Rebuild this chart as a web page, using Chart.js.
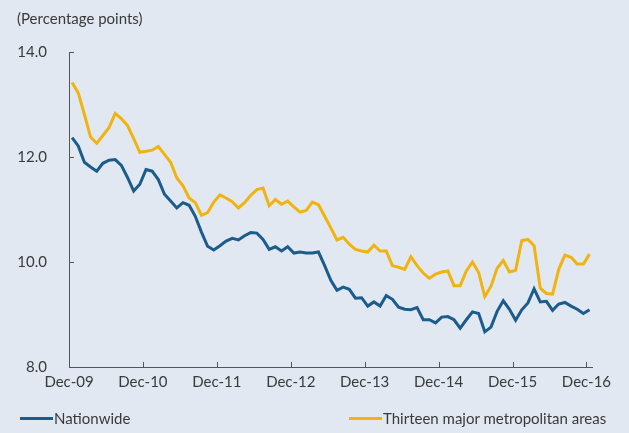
<!DOCTYPE html>
<html>
<head>
<meta charset="utf-8">
<title>Percentage points chart</title>
<script src="https://cdn.jsdelivr.net/npm/chart.js@4.4.1/dist/chart.umd.min.js"></script>
<style>
  html, body { margin: 0; padding: 0; background: #e1e8f1; }
  #wrap { position: relative; width: 629px; height: 433px; font-family: Lato, sans-serif; color: #3a3a3a; }
  canvas { position: absolute; left: 0; top: 0; }
  .txt { position: absolute; font-size: 15px; line-height: 18px; white-space: nowrap; }
  .key { position: absolute; height: 3px; width: 33px; }
</style>
</head>
<body>
<div id="wrap">
  <canvas id="chart" width="629" height="433"></canvas>
  <div class="txt" style="left:17px; top:9px;">(Percentage points)</div>
  <div class="key" style="left:20px; top:417px; background:#1b5c8b;"></div>
  <div class="txt" style="left:54px; top:409px;">Nationwide</div>
  <div class="key" style="left:349px; top:417px; background:#f0b310;"></div>
  <div class="txt" style="left:383px; top:409px;">Thirteen major metropolitan areas</div>
</div>
<script>
// Monthly values, Dec-09 (index 0) to Dec-16 (index 84)
const nationwide = [
  12.37, 12.21, 11.90, 11.81, 11.73, 11.88, 11.94, 11.95, 11.84, 11.61,
  11.35, 11.48, 11.76, 11.73, 11.57, 11.29, 11.16, 11.03, 11.13, 11.08,
  10.87, 10.57, 10.30, 10.23, 10.31, 10.40, 10.45, 10.42, 10.50, 10.56,
  10.55, 10.43, 10.24, 10.29, 10.21, 10.29, 10.17, 10.19, 10.17, 10.17,
  10.19, 9.93, 9.65, 9.46, 9.52, 9.48, 9.31, 9.32, 9.16, 9.24,
  9.16, 9.36, 9.29, 9.14, 9.10, 9.09, 9.13, 8.90, 8.90, 8.84,
  8.95, 8.96, 8.90, 8.74, 8.90, 9.05, 9.02, 8.67, 8.76, 9.06,
  9.26, 9.10, 8.89, 9.09, 9.22, 9.49, 9.24, 9.25, 9.08, 9.20,
  9.23, 9.16, 9.10, 9.02, 9.09
];
const metroAreas = [
  13.42, 13.22, 12.81, 12.38, 12.26, 12.41, 12.56, 12.83, 12.73, 12.60,
  12.35, 12.09, 12.11, 12.13, 12.20, 12.05, 11.90, 11.60, 11.45, 11.22,
  11.13, 10.89, 10.94, 11.14, 11.28, 11.22, 11.15, 11.03, 11.13, 11.27,
  11.38, 11.41, 11.07, 11.19, 11.10, 11.16, 11.05, 10.95, 10.98, 11.14,
  11.09, 10.87, 10.65, 10.42, 10.47, 10.34, 10.24, 10.21, 10.19, 10.32,
  10.21, 10.21, 9.93, 9.90, 9.86, 10.10, 9.93, 9.79, 9.69, 9.77,
  9.81, 9.83, 9.55, 9.55, 9.83, 10.00, 9.80, 9.34, 9.54, 9.88,
  10.03, 9.81, 9.84, 10.41, 10.43, 10.31, 9.50, 9.40, 9.39, 9.86,
  10.13, 10.09, 9.96, 9.96, 10.15
];
const tickLabels = ['Dec-09', 'Dec-10', 'Dec-11', 'Dec-12', 'Dec-13', 'Dec-14', 'Dec-15', 'Dec-16'];
const yTicks = [8, 10, 12, 14];

// year ticks sit half a month before each December point
const xTickPos = tickLabels.map((_, k) => k * 12 - 0.5);

const axisColor = '#555555';
const textColor = '#3a3a3a';

// small tick marks drawn inside the plot, like the original
const innerTicks = {
  id: 'innerTicks',
  afterDatasetsDraw(chart) {
    const { ctx, scales: { x, y } } = chart;
    ctx.save();
    ctx.strokeStyle = axisColor;
    ctx.lineWidth = 1;
    xTickPos.forEach(v => {
      const px = Math.round(x.getPixelForValue(v)) + 0.5;
      ctx.beginPath();
      ctx.moveTo(px, y.bottom);
      ctx.lineTo(px, y.bottom - 5);
      ctx.stroke();
    });
    yTicks.slice(1).forEach(v => {
      const py = Math.round(y.getPixelForValue(v)) + 0.5;
      ctx.beginPath();
      ctx.moveTo(x.left, py);
      ctx.lineTo(x.left + 5, py);
      ctx.stroke();
    });
    ctx.restore();
  }
};

const toPoints = arr => arr.map((v, i) => ({ x: i, y: v }));

new Chart(document.getElementById('chart'), {
  type: 'line',
  data: {
    datasets: [
      {
        label: 'Thirteen major metropolitan areas',
        data: toPoints(metroAreas),
        borderColor: '#f0b310',
        borderWidth: 3,
        pointRadius: 0,
        tension: 0
      },
      {
        label: 'Nationwide',
        data: toPoints(nationwide),
        borderColor: '#1b5c8b',
        borderWidth: 3,
        pointRadius: 0,
        tension: 0
      }
    ]
  },
  options: {
    responsive: false,
    animation: false,
    layout: { padding: { left: 0, top: 52, right: 37, bottom: 36 } },
    plugins: {
      legend: { display: false },
      tooltip: { enabled: false }
    },
    scales: {
      x: {
        type: 'linear',
        min: -0.5,
        max: 84.4,
        afterBuildTicks: scale => { scale.ticks = xTickPos.map(v => ({ value: v })); },
        grid: { display: false, drawTicks: false },
        border: { display: true, color: axisColor, width: 1 },
        ticks: {
          padding: 6,
          maxRotation: 0,
          autoSkip: false,
          color: textColor,
          font: { family: 'Lato', size: 15 },
          callback: (v, i) => tickLabels[i]
        }
      },
      y: {
        min: 8,
        max: 14,
        afterBuildTicks: scale => { scale.ticks = yTicks.map(v => ({ value: v })); },
        afterFit: scale => { scale.width = 69; },
        grid: { display: false, drawTicks: false },
        border: { display: true, color: axisColor, width: 1 },
        ticks: {
          padding: 22,
          color: textColor,
          font: { family: 'Lato', size: 15 },
          callback: v => v.toFixed(1)
        }
      }
    }
  },
  plugins: [innerTicks]
});
</script>
</body>
</html>
